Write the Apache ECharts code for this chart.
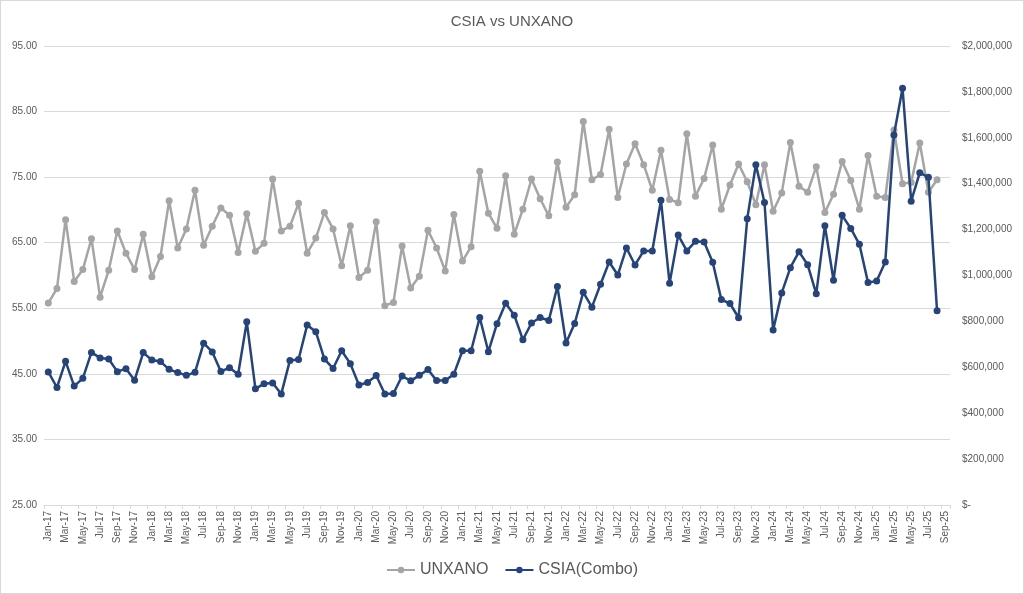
<!DOCTYPE html>
<html>
<head>
<meta charset="utf-8">
<script src="https://cdn.jsdelivr.net/npm/echarts@6/dist/echarts.min.js"></script>
<style>
html,body{margin:0;padding:0;background:#fff;}
#chart{width:1024px;height:594px;box-sizing:border-box;border:1px solid #d9d9d9;}
</style>
</head>
<body>
<div id="chart"></div>
<script>
const monthNames = ['Jan','Feb','Mar','Apr','May','Jun','Jul','Aug','Sep','Oct','Nov','Dec'];
const years = ['17','18','19','20','21','22','23','24','25'];
const categories = [];
years.forEach(function (y) {
  monthNames.forEach(function (m) {
    categories.push(m + '-' + y);
  });
});
categories.length = 105; // Jan-17 .. Sep-25

const unxano = [
  55.8, 58.0, 68.5, 59.1, 60.9, 65.6, 56.7, 60.8, 66.8, 63.4, 60.9, 66.3,
  59.8, 62.9, 71.4, 64.2, 67.1, 73.0, 64.6, 67.5, 70.3, 69.2, 63.5, 69.4,
  63.7, 64.9, 74.7, 66.8, 67.5, 71.0, 63.4, 65.7, 69.6, 67.1, 61.5, 67.6,
  59.7, 60.8, 68.2, 55.4, 55.9, 64.5, 58.1, 59.9, 66.9, 64.2, 60.7, 69.3,
  62.2, 64.4, 75.9, 69.5, 67.2, 75.2, 66.3, 70.1, 74.7, 71.7, 69.1, 77.3,
  70.4, 72.3, 83.5, 74.6, 75.4, 82.3, 71.9, 77.0, 80.1, 76.9, 73.0, 79.1,
  71.6, 71.1, 81.6, 72.1, 74.8, 79.9, 70.1, 73.8, 77.0, 74.3, 70.8, 76.9,
  69.8, 72.6, 80.3, 73.6, 72.7, 76.6, 69.6, 72.4, 77.4, 74.5, 70.1, 78.3,
  72.1, 71.9, 82.2, 74.0, 74.2, 80.2, 72.7, 74.6, null
];

const csia = [
  580000, 512000, 626000, 518000, 552000, 665000, 641000, 636000, 581000, 594000, 544000, 664000,
  632000, 625000, 591000, 577000, 565000, 578000, 705000, 667000, 582000, 598000, 570000, 798000,
  507000, 528000, 532000, 484000, 630000, 634000, 784000, 755000, 636000, 595000, 672000, 616000,
  523000, 534000, 564000, 484000, 486000, 562000, 541000, 565000, 590000, 542000, 542000, 570000,
  672000, 672000, 817000, 668000, 790000, 879000, 827000, 720000, 793000, 817000, 804000, 952000,
  706000, 791000, 927000, 862000, 962000, 1059000, 1002000, 1120000, 1046000, 1107000, 1107000, 1328000,
  966000, 1176000, 1107000, 1149000, 1146000, 1058000, 895000, 878000, 816000, 1247000, 1483000, 1318000,
  762000, 924000, 1034000, 1104000, 1047000, 920000, 1217000, 979000, 1262000, 1205000, 1136000, 969000,
  976000, 1059000, 1612000, 1816000, 1324000, 1448000, 1428000, 846000, null
];

const leftTicks = [25, 35, 45, 55, 65, 75, 85, 95];
const rightTicks = [0, 200000, 400000, 600000, 800000, 1000000, 1200000, 1400000, 1600000, 1800000, 2000000];

const textColor = '#595959';
const fontFamily = '"Liberation Sans", Arial, sans-serif';

const chart = echarts.init(document.getElementById('chart'), null, {renderer: 'canvas'});
chart.setOption({
  animation: false,
  title: {
    text: 'CSIA vs UNXANO',
    left: 'center',
    top: 8,
    textStyle: {color: textColor, fontSize: 15, fontWeight: 'normal', fontFamily: fontFamily}
  },
  legend: {
    bottom: 10,
    left: 'center',
    itemWidth: 28,
    itemHeight: 8,
    itemGap: 16,
    textStyle: {color: textColor, fontSize: 16, fontFamily: fontFamily},
    data: ['UNXANO', 'CSIA(Combo)']
  },
  grid: {left: 43, right: 73, top: 45, bottom: 88, containLabel: false},
  xAxis: {
    type: 'category',
    data: categories,
    boundaryGap: true,
    axisLine: {lineStyle: {color: '#d9d9d9'}},
    axisTick: {show: true, interval: 1, length: 4, lineStyle: {color: '#d9d9d9'}},
    axisLabel: {
      interval: 1, rotate: 90, color: textColor, fontSize: 10, fontFamily: fontFamily, margin: 6
    },
    splitLine: {show: false}
  },
  yAxis: [
    {
      type: 'value',
      min: leftTicks[0],
      max: leftTicks[leftTicks.length - 1],
      interval: 5,
      position: 'left',
      axisLine: {show: false},
      axisTick: {show: false},
      splitLine: {show: false},
      axisLabel: {
        color: textColor, fontSize: 10, fontFamily: fontFamily, margin: 7,
        formatter: function (v) {
          return leftTicks.indexOf(v) >= 0 ? v.toFixed(2) : '';
        }
      }
    },
    {
      type: 'value',
      min: rightTicks[0],
      max: rightTicks[rightTicks.length - 1],
      interval: 200000,
      position: 'right',
      axisLine: {show: false},
      axisTick: {show: false},
      splitLine: {show: false},
      axisLabel: {
        color: textColor, fontSize: 10, fontFamily: fontFamily, margin: 12,
        formatter: function (v) {
          return v === 0 ? '$-' : '$' + v.toLocaleString('en-US');
        }
      }
    },
    {
      type: 'value',
      min: 0,
      max: leftTicks.length - 1,
      interval: 1,
      position: 'left',
      axisLine: {show: false},
      axisTick: {show: false},
      axisLabel: {show: false},
      splitLine: {show: true, lineStyle: {color: '#d9d9d9', width: 1}}
    }
  ],
  series: [
    {
      name: 'UNXANO',
      type: 'line',
      yAxisIndex: 0,
      data: unxano,
      symbol: 'circle',
      symbolSize: 7,
      showAllSymbol: true,
      lineStyle: {color: '#A5A5A5', width: 2.5},
      itemStyle: {color: '#A5A5A5'},
      z: 2
    },
    {
      name: 'CSIA(Combo)',
      type: 'line',
      yAxisIndex: 1,
      data: csia,
      symbol: 'circle',
      symbolSize: 7,
      showAllSymbol: true,
      lineStyle: {color: '#264478', width: 2.5},
      itemStyle: {color: '#264478'},
      z: 3
    }
  ]
});
</script>
</body>
</html>
